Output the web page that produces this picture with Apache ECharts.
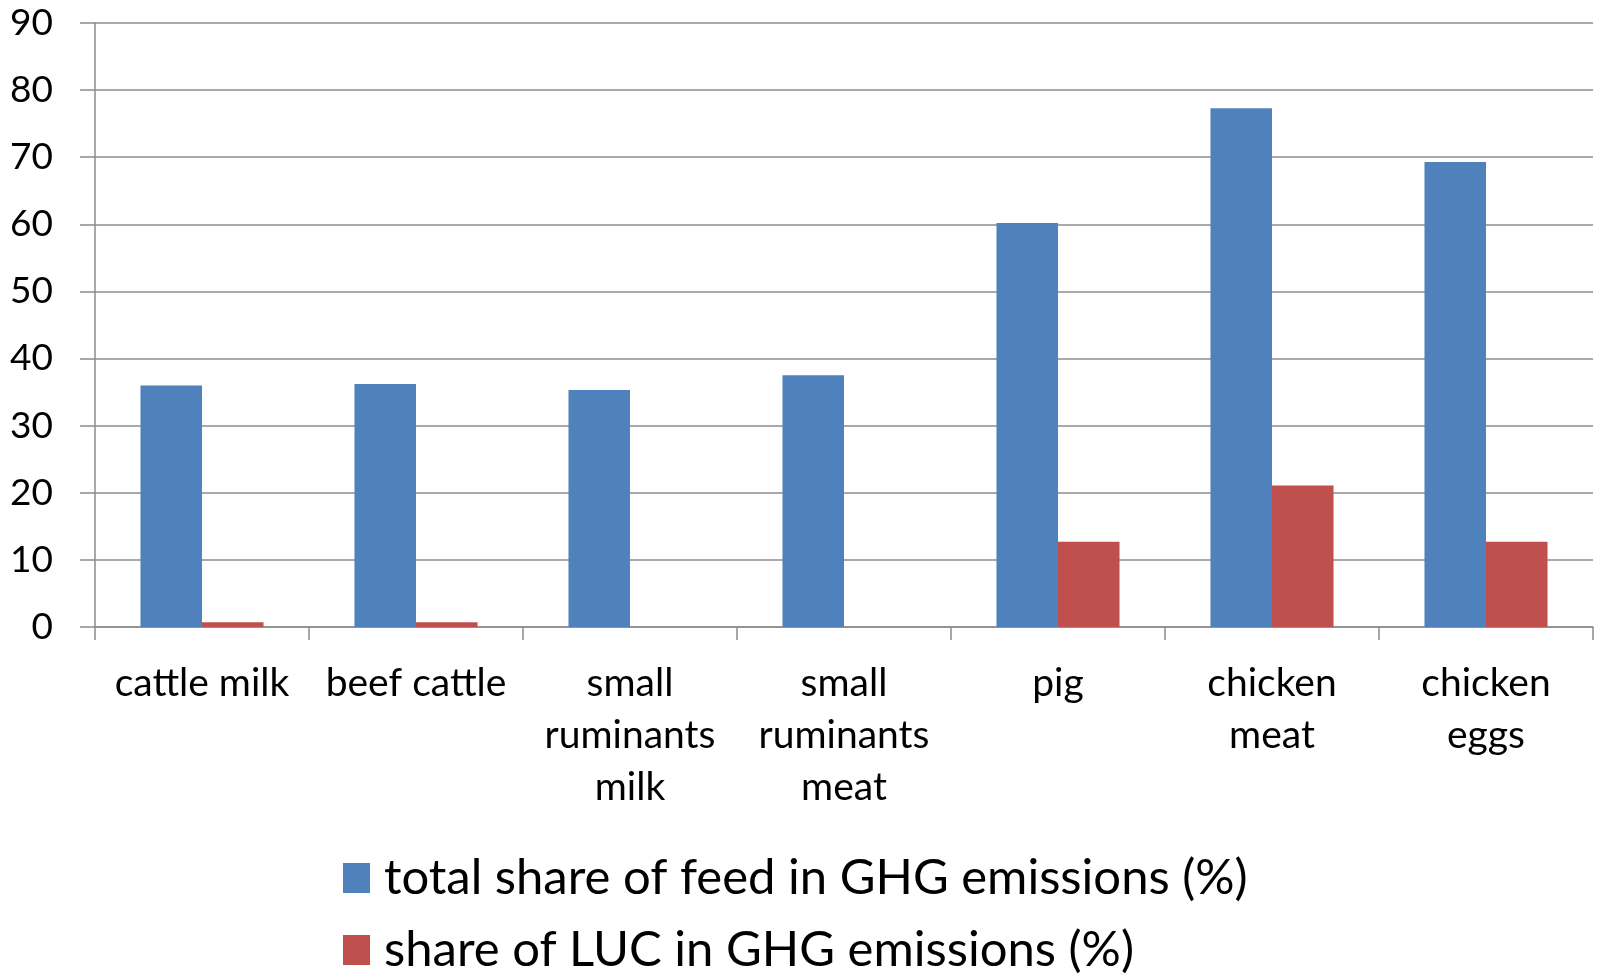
<!DOCTYPE html>
<html>
<head>
<meta charset="utf-8">
<script src="https://cdn.jsdelivr.net/npm/echarts@6/dist/echarts.min.js"></script>
<style>
html,body{margin:0;padding:0;background:#fff;}
#chart{width:1598px;height:973px;}
</style>
</head>
<body>
<div id="chart"></div>
<script>
const categories = ["cattle milk", "beef cattle", "small\nruminants\nmilk", "small\nruminants\nmeat", "pig", "chicken\nmeat", "chicken\neggs"];
const feedShare = [36.0, 36.2, 35.3, 37.5, 60.2, 77.3, 69.3];
const lucShare = [0.7, 0.7, 0, 0, 12.7, 21.1, 12.7];
const seriesNames = ["total share of feed in GHG emissions (%)", "share of LUC in GHG emissions (%)"];

const FONT = "Lato";
const legendBase = {
  orient: 'vertical',
  left: 338,
  itemWidth: 27,
  itemHeight: 30,
  itemGap: 0,
  icon: 'rect',
  textStyle: { fontFamily: FONT, fontSize: 49, lineHeight: 50, color: '#000', padding: [0, 0, 0, 9] }
};
const chart = echarts.init(document.getElementById('chart'));
chart.setOption({
  animation: false,
  backgroundColor: '#ffffff',
  grid: { left: 95, right: 5, top: 23, bottom: 346, containLabel: false },
  legend: [
    Object.assign({}, legendBase, { top: 848, data: [seriesNames[0]] }),
    Object.assign({}, legendBase, { top: 920, data: [seriesNames[1]] })
  ],
  xAxis: {
    type: 'category',
    data: categories,
    axisLine: { lineStyle: { color: '#8c8c8c', width: 1.5 } },
    axisTick: { show: true, length: 13, lineStyle: { color: '#8c8c8c', width: 1.5 } },
    axisLabel: {
      interval: 0,
      margin: 30,
      fontFamily: FONT,
      fontSize: 39,
      lineHeight: 52,
      color: '#000',
      align: 'center'
    }
  },
  yAxis: {
    type: 'value',
    min: 0,
    max: 90,
    interval: 10,
    axisLine: { show: true, lineStyle: { color: '#8c8c8c', width: 1.5 } },
    axisTick: { show: true, length: 15, lineStyle: { color: '#8c8c8c', width: 1.5 } },
    splitLine: { lineStyle: { color: '#8c8c8c', width: 1.5 } },
    axisLabel: { fontFamily: FONT, fontSize: 37, color: '#000', margin: 42 }
  },
  series: [
    {
      name: seriesNames[0],
      type: 'bar',
      data: feedShare,
      barGap: '0%',
      barCategoryGap: '42.5%',
      itemStyle: { color: '#4F81BD' }
    },
    {
      name: seriesNames[1],
      type: 'bar',
      data: lucShare,
      barGap: '0%',
      barCategoryGap: '42.5%',
      itemStyle: { color: '#C0504D' }
    }
  ]
});
</script>
</body>
</html>
